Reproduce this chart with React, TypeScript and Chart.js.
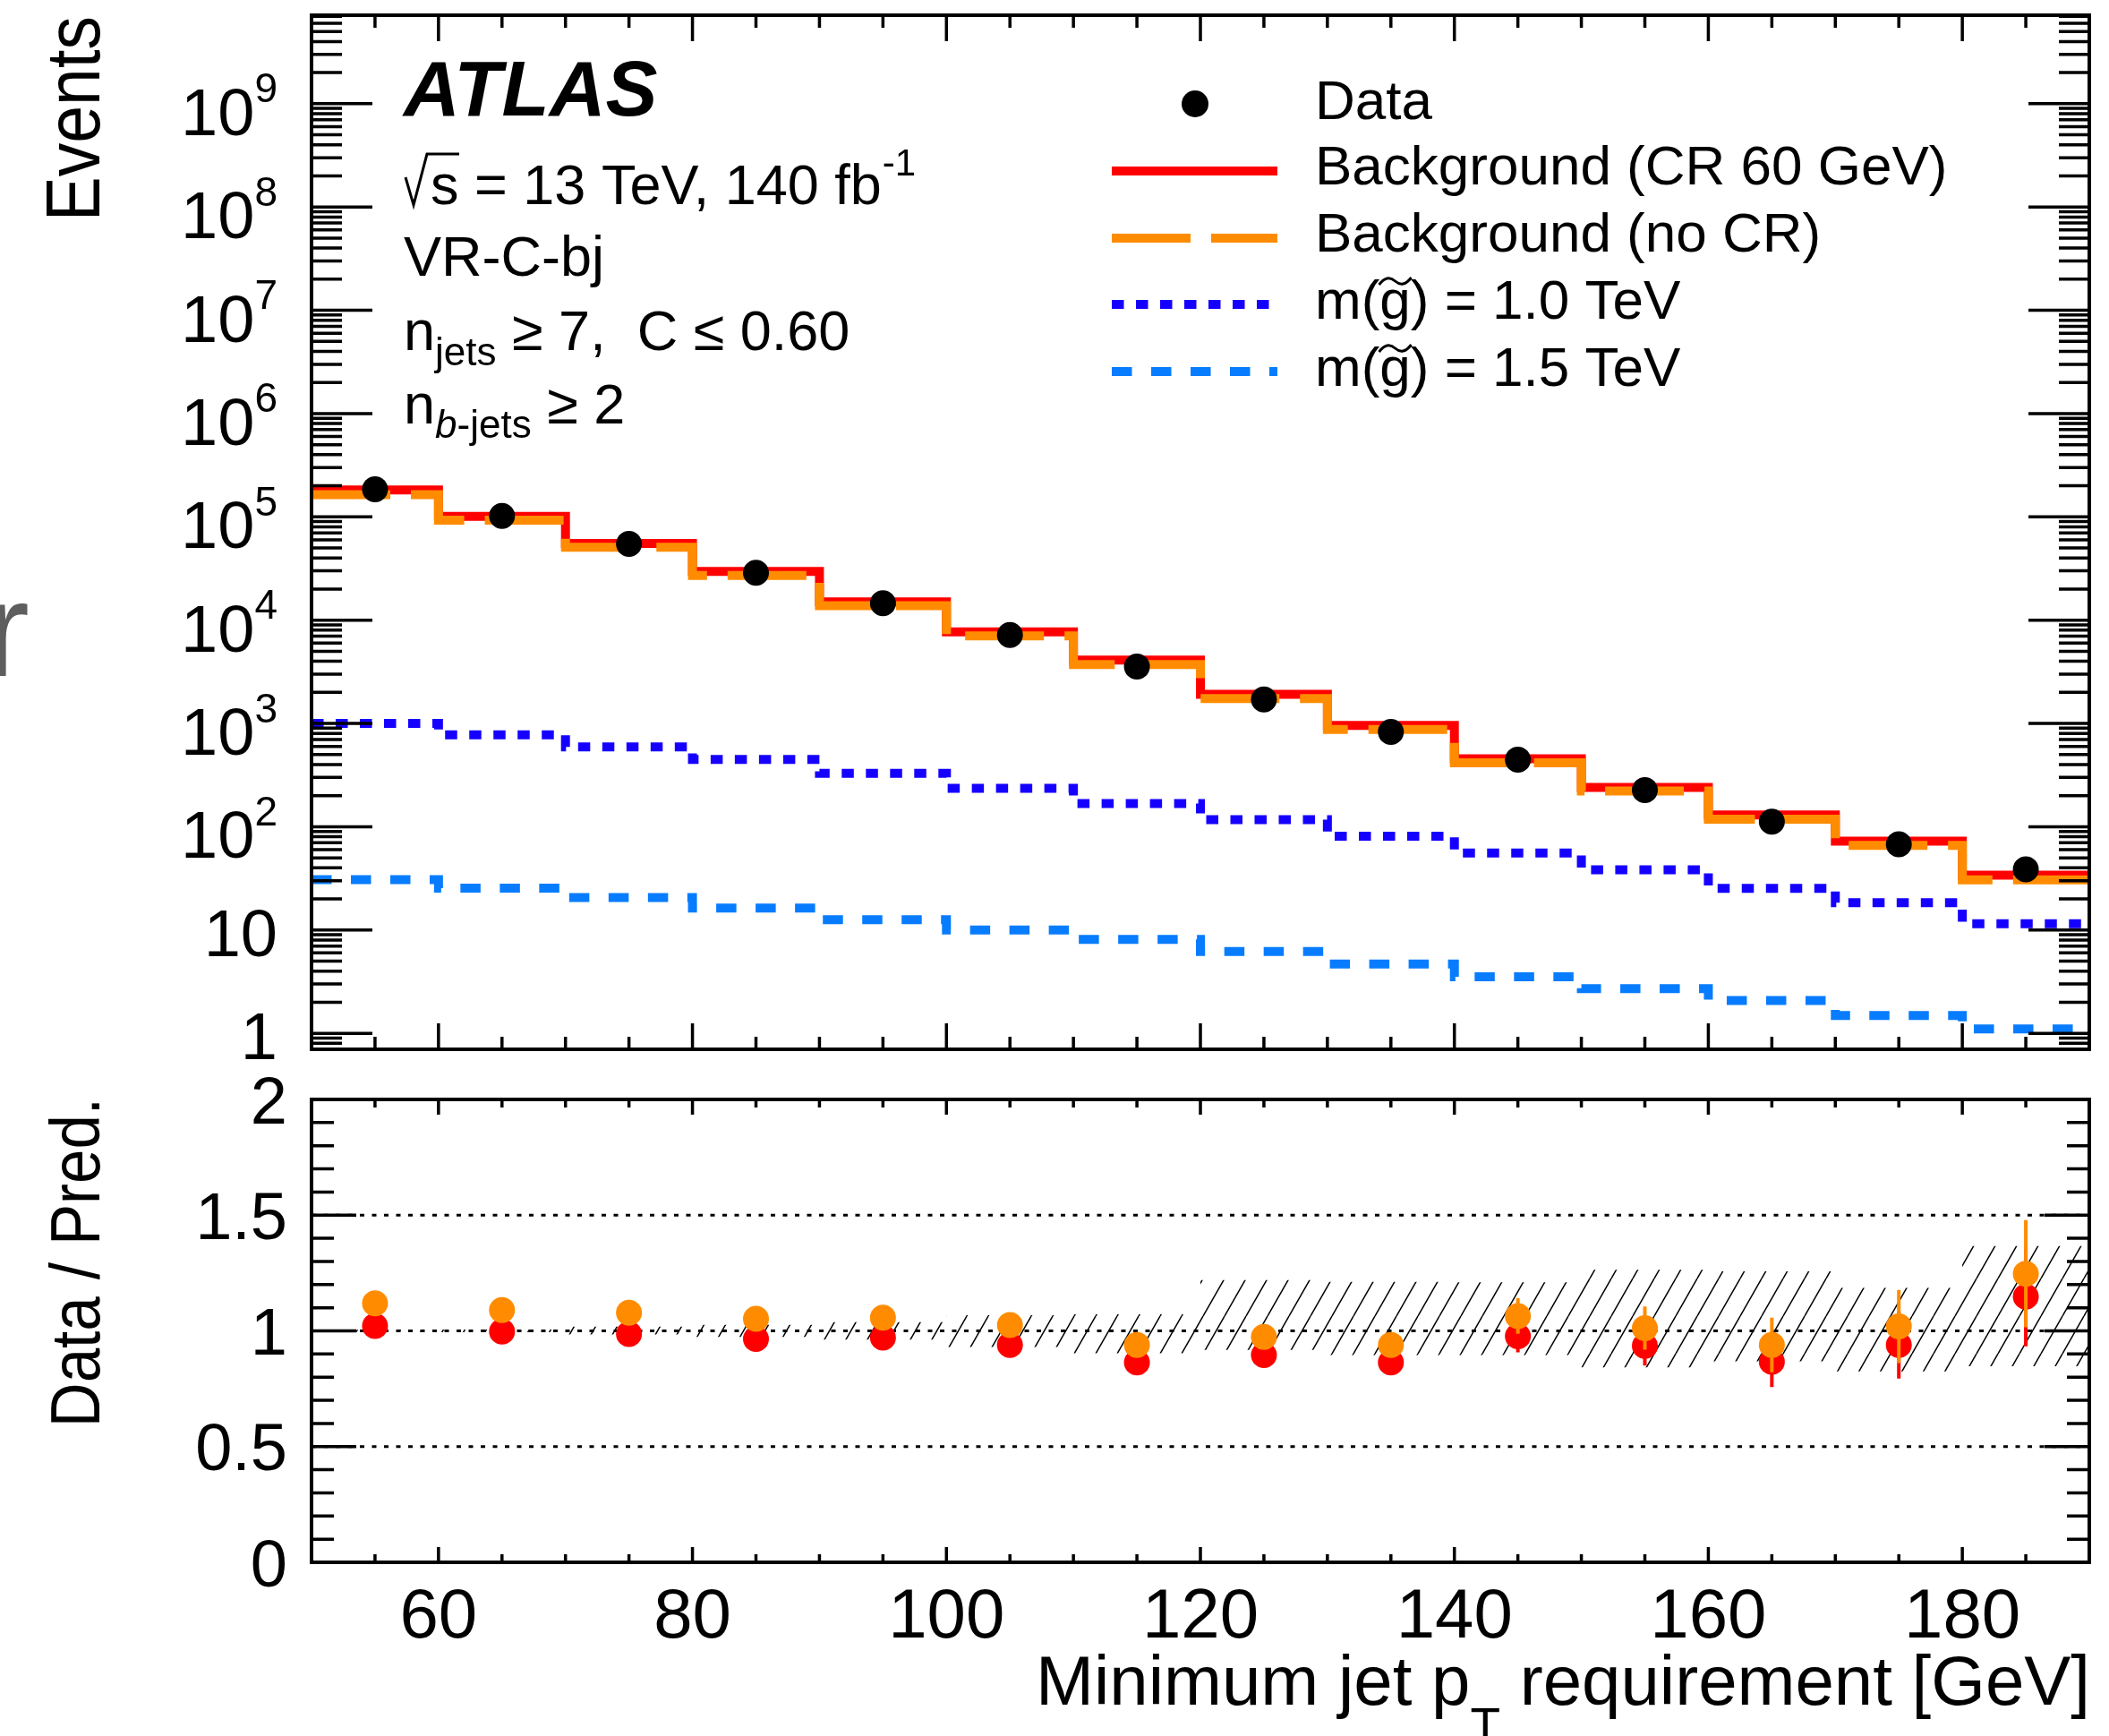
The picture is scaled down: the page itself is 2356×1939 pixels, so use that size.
import React, { useEffect, useRef } from 'react';
import { Chart, registerables } from 'chart.js';

Chart.register(...registerables);

const PAGE_W = 2356;
const PAGE_H = 1939;
const FONT = '"Liberation Sans", Arial, Helvetica, sans-serif';

const RED = '#ff0000';
const ORANGE = '#ff8c00';
const BLUE = '#1500ff';
const AZURE = '#087cff';

// Binning in minimum jet pT [GeV]
const binEdges = [50, 60, 70, 80, 90, 100, 110, 120, 130, 140, 150, 160, 170, 180, 190];
const binCentres = [55, 65, 75, 85, 95, 105, 115, 125, 135, 145, 155, 165, 175, 185];

// Event yields per bin
const dataEvents = [1.85e5, 1.02e5, 5.48e4, 2.88e4, 1.46e4, 7170, 3550, 1710, 828, 446, 226, 112, 67.6, 38.6];
const bkgCR60 = [1.82e5, 1.01e5, 5.52e4, 2.97e4, 1.5e4, 7710, 4100, 1910, 957, 456, 240, 130, 72.6, 33.9];
const bkgNoCR = [1.64e5, 9.3e4, 5.08e4, 2.71e4, 1.38e4, 7030, 3720, 1740, 873, 416, 222, 118, 65.8, 30.6];
const sigGluino1000 = [1000, 775, 593, 449, 329, 236, 168, 117, 80.9, 55.6, 38.2, 25.3, 18.4, 11.5];
const sigGluino1500 = [30.8, 25.4, 20.6, 16.3, 12.6, 10.0, 8.11, 6.2, 4.68, 3.52, 2.7, 2.08, 1.49, 1.1];

// Data / prediction
const ratioCR60 = [1.021, 0.997, 0.986, 0.965, 0.971, 0.939, 0.864, 0.896, 0.864, 0.977, 0.935, 0.867, 0.939, 1.148];
const ratioCR60Err = [0.002, 0.003, 0.004, 0.006, 0.008, 0.012, 0.016, 0.022, 0.031, 0.07, 0.085, 0.11, 0.145, 0.215];
const ratioNoCR = [1.119, 1.09, 1.078, 1.052, 1.057, 1.025, 0.939, 0.974, 0.939, 1.064, 1.012, 0.939, 1.019, 1.247];
const ratioNoCRErr = [0.002, 0.003, 0.004, 0.006, 0.009, 0.013, 0.017, 0.024, 0.034, 0.077, 0.093, 0.118, 0.158, 0.232];
const bandUp = [1.005, 1.006, 1.018, 1.026, 1.038, 1.068, 1.072, 1.22, 1.212, 1.21, 1.264, 1.257, 1.186, 1.367];
const bandDown = [0.995, 0.994, 0.985, 0.974, 0.962, 0.93, 0.903, 0.918, 0.896, 0.896, 0.842, 0.868, 0.825, 0.847];

// Axis ticks
const xMajorTicks = [60, 80, 100, 120, 140, 160, 180];
const xMajorLabels = ['60', '80', '100', '120', '140', '160', '180'];
const xMinorTicks = [55, 65, 70, 75, 85, 90, 95, 105, 110, 115, 125, 130, 135, 145, 150, 155, 165, 170, 175, 185];
const eventDecades = [0, 1, 2, 3, 4, 5, 6, 7, 8, 9];
const ratioMajorTicks = [0, 0.5, 1, 1.5, 2];
const ratioMajorLabels = ['0', '0.5', '1', '1.5', '2'];
const ratioMinorTicks = [0.1, 0.2, 0.3, 0.4, 0.6, 0.7, 0.8, 0.9, 1.1, 1.2, 1.3, 1.4, 1.6, 1.7, 1.8, 1.9];
const ratioRefLines = [0.5, 1, 1.5];

const X_MIN = 50;
const X_MAX = 190;
const EVENTS_MIN = 0.7244;
const EVENTS_MAX = 7.19e9;

// Pad frames in page pixels
const UPPER = { left: 348, right: 2334, top: 17, bottom: 1172 };
const LOWER = { left: 348, right: 2334, top: 1228, bottom: 1745 };

function stepPoints(values: number[]) {
  const pts: { x: number; y: number }[] = [];
  values.forEach((v, i) => {
    pts.push({ x: binEdges[i], y: v });
    pts.push({ x: binEdges[i + 1], y: v });
  });
  return pts;
}

function makeHatch(): CanvasPattern | string {
  const w = 24;
  const h = 42;
  const c = document.createElement('canvas');
  c.width = w;
  c.height = h;
  const g = c.getContext('2d');
  if (!g) return 'rgba(0,0,0,0.2)';
  g.strokeStyle = '#000';
  g.lineWidth = 1.5;
  g.beginPath();
  for (const k of [-1, 0, 1]) {
    g.moveTo(k * w, h);
    g.lineTo(k * w + w, 0);
  }
  g.stroke();
  return g.createPattern(c, 'repeat') || 'rgba(0,0,0,0.2)';
}

function seg(ctx: CanvasRenderingContext2D, x1: number, y1: number, x2: number, y2: number) {
  ctx.moveTo(x1, y1);
  ctx.lineTo(x2, y2);
}

type Run = { text: string; size: number; dy?: number; style?: string };

function drawRuns(ctx: CanvasRenderingContext2D, x: number, baseline: number, runs: Run[]) {
  let cx = x;
  const pos: number[] = [];
  for (const r of runs) {
    ctx.font = `${r.style ? r.style + ' ' : ''}${r.size}px ${FONT}`;
    pos.push(cx);
    ctx.fillText(r.text, cx, baseline + (r.dy || 0));
    cx += ctx.measureText(r.text).width;
  }
  pos.push(cx);
  return pos;
}

function drawGluinoLabel(ctx: CanvasRenderingContext2D, x: number, baseline: number, mass: string) {
  const pos = drawRuns(ctx, x, baseline, [
    { text: 'm(', size: 62 },
    { text: 'g', size: 62 },
    { text: `) = ${mass} TeV`, size: 62 },
  ]);
  const cx = (pos[1] + pos[2]) / 2;
  const cy = baseline - 42;
  ctx.save();
  ctx.lineWidth = 3;
  ctx.beginPath();
  ctx.moveTo(cx - 18, cy + 4);
  ctx.quadraticCurveTo(cx - 9, cy - 8, cx, cy);
  ctx.quadraticCurveTo(cx + 9, cy + 8, cx + 18, cy - 4);
  ctx.stroke();
  ctx.restore();
}

function drawRotatedTitle(ctx: CanvasRenderingContext2D, text: string, x: number, yEnd: number, size: number) {
  ctx.save();
  ctx.translate(x, yEnd);
  ctx.rotate(-Math.PI / 2);
  ctx.scale(1, 1.13);
  ctx.font = `${size}px ${FONT}`;
  ctx.textAlign = 'right';
  ctx.textBaseline = 'alphabetic';
  ctx.fillText(text, 0, 0);
  ctx.restore();
}

const upperDecor = {
  id: 'upperDecor',
  afterDraw(chart: any) {
    const { ctx, chartArea: a, scales } = chart;
    const xs = scales.x;
    const ys = scales.y;
    ctx.save();
    ctx.strokeStyle = '#000';
    ctx.fillStyle = '#000';

    // tick marks on all four sides
    ctx.lineWidth = 3.5;
    ctx.beginPath();
    for (const v of xMajorTicks) {
      const px = xs.getPixelForValue(v);
      seg(ctx, px, a.bottom, px, a.bottom - 29);
      seg(ctx, px, a.top, px, a.top + 29);
    }
    for (const v of xMinorTicks) {
      const px = xs.getPixelForValue(v);
      seg(ctx, px, a.bottom, px, a.bottom - 14);
      seg(ctx, px, a.top, px, a.top + 14);
    }
    for (const n of eventDecades) {
      const py = ys.getPixelForValue(Math.pow(10, n));
      seg(ctx, a.left, py, a.left + 68, py);
      seg(ctx, a.right, py, a.right - 68, py);
      for (let k = 2; k <= 9; k++) {
        const v = k * Math.pow(10, n);
        if (v >= EVENTS_MAX) continue;
        const pm = ys.getPixelForValue(v);
        seg(ctx, a.left, pm, a.left + 34, pm);
        seg(ctx, a.right, pm, a.right - 34, pm);
      }
    }
    for (const v of [0.8, 0.9]) {
      const pm = ys.getPixelForValue(v);
      seg(ctx, a.left, pm, a.left + 34, pm);
      seg(ctx, a.right, pm, a.right - 34, pm);
    }
    ctx.stroke();

    ctx.lineWidth = 4;
    ctx.strokeRect(a.left, a.top, a.right - a.left, a.bottom - a.top);

    // y tick labels
    ctx.textAlign = 'right';
    ctx.textBaseline = 'alphabetic';
    const lx = a.left - 38;
    for (const n of eventDecades) {
      const py = ys.getPixelForValue(Math.pow(10, n));
      if (n === 0 || n === 1) {
        ctx.font = `74px ${FONT}`;
        ctx.fillText(n === 0 ? '1' : '10', lx, py + 29);
      } else {
        ctx.font = `46px ${FONT}`;
        const sup = String(n);
        const sw = ctx.measureText(sup).width;
        ctx.fillText(sup, lx, py - 1.5);
        ctx.font = `74px ${FONT}`;
        ctx.fillText('10', lx - sw, py + 35);
      }
    }

    drawRotatedTitle(ctx, 'Events', 111, 18, 75);

    // stray glyph at the page edge
    ctx.save();
    ctx.fillStyle = '#5e5e5e';
    ctx.textAlign = 'left';
    ctx.font = `150px ${FONT}`;
    ctx.fillText('r', -17, 755);
    ctx.restore();

    // experiment label and selection text
    ctx.textAlign = 'left';
    ctx.font = `italic bold 87px ${FONT}`;
    ctx.fillText('ATLAS', 451, 129);

    ctx.lineWidth = 3;
    ctx.beginPath();
    ctx.moveTo(453, 198);
    ctx.lineTo(462, 229);
    ctx.lineTo(477, 172);
    ctx.lineTo(513, 172);
    ctx.stroke();
    const p1 = drawRuns(ctx, 481, 228, [
      { text: 's = 13 TeV, 140 fb', size: 63 },
    ]);
    drawRuns(ctx, p1[1] + 1, 196, [{ text: '-1', size: 42 }]);

    drawRuns(ctx, 451, 308, [{ text: 'VR-C-bj', size: 63 }]);
    drawRuns(ctx, 451, 391, [
      { text: 'n', size: 63 },
      { text: 'jets', size: 44, dy: 17 },
      { text: ' \u2265 7,  C \u2264 0.60', size: 63 },
    ]);
    drawRuns(ctx, 451, 473, [
      { text: 'n', size: 63 },
      { text: 'b', size: 44, dy: 16, style: 'italic' },
      { text: '-jets', size: 44, dy: 16 },
      { text: ' \u2265 2', size: 63 },
    ]);

    // legend
    const lx0 = 1242;
    const lx1 = 1427;
    const tx = 1469;
    ctx.beginPath();
    ctx.arc(1335, 116, 15, 0, Math.PI * 2);
    ctx.fill();
    drawRuns(ctx, tx, 133, [{ text: 'Data', size: 62 }]);

    const sample = (y: number, color: string, dash: number[]) => {
      ctx.save();
      ctx.strokeStyle = color;
      ctx.lineWidth = 10;
      ctx.lineCap = 'butt';
      ctx.setLineDash(dash);
      ctx.beginPath();
      ctx.moveTo(lx0, y);
      ctx.lineTo(lx1, y);
      ctx.stroke();
      ctx.restore();
    };
    sample(191, RED, []);
    drawRuns(ctx, tx, 206, [{ text: 'Background (CR 60 GeV)', size: 62 }]);
    sample(266, ORANGE, [88, 23]);
    drawRuns(ctx, tx, 281, [{ text: 'Background (no CR)', size: 62 }]);
    sample(340, BLUE, [13.5, 13.5]);
    drawGluinoLabel(ctx, tx, 356, '1.0');
    sample(415, AZURE, [22.5, 21.5]);
    drawGluinoLabel(ctx, tx, 431, '1.5');

    ctx.restore();
  },
};

const ratioErrorBars = {
  id: 'ratioErrorBars',
  beforeDatasetDraw(chart: any, args: any) {
    const ds = chart.data.datasets[args.index];
    if (!ds.errors) return;
    const { ctx, scales } = chart;
    ctx.save();
    ctx.strokeStyle = ds.pointBackgroundColor;
    ctx.lineWidth = 4;
    ctx.beginPath();
    ds.data.forEach((p: { x: number; y: number }, i: number) => {
      const px = scales.x.getPixelForValue(p.x);
      seg(ctx, px, scales.y.getPixelForValue(p.y - ds.errors[i]), px, scales.y.getPixelForValue(p.y + ds.errors[i]));
    });
    ctx.stroke();
    ctx.restore();
  },
};

const lowerDecor = {
  id: 'lowerDecor',
  afterDraw(chart: any) {
    const { ctx, chartArea: a, scales } = chart;
    const xs = scales.x;
    const ys = scales.y;
    ctx.save();
    ctx.strokeStyle = '#000';
    ctx.fillStyle = '#000';
    ctx.lineWidth = 3.5;
    ctx.beginPath();
    for (const v of xMajorTicks) {
      const px = xs.getPixelForValue(v);
      seg(ctx, px, a.bottom, px, a.bottom - 17);
      seg(ctx, px, a.top, px, a.top + 17);
    }
    for (const v of xMinorTicks) {
      const px = xs.getPixelForValue(v);
      seg(ctx, px, a.bottom, px, a.bottom - 9);
      seg(ctx, px, a.top, px, a.top + 9);
    }
    for (const v of ratioMajorTicks) {
      const py = ys.getPixelForValue(v);
      seg(ctx, a.left, py, a.left + 50, py);
      seg(ctx, a.right, py, a.right - 50, py);
    }
    for (const v of ratioMinorTicks) {
      const py = ys.getPixelForValue(v);
      seg(ctx, a.left, py, a.left + 25, py);
      seg(ctx, a.right, py, a.right - 25, py);
    }
    ctx.stroke();
    ctx.lineWidth = 4;
    ctx.strokeRect(a.left, a.top, a.right - a.left, a.bottom - a.top);

    // tick labels
    ctx.textBaseline = 'alphabetic';
    ctx.font = `74px ${FONT}`;
    ctx.textAlign = 'right';
    ratioMajorTicks.forEach((v, i) => {
      ctx.fillText(ratioMajorLabels[i], a.left - 27, ys.getPixelForValue(v) + 26.5);
    });
    ctx.font = `78px ${FONT}`;
    ctx.textAlign = 'center';
    xMajorTicks.forEach((v, i) => {
      ctx.fillText(xMajorLabels[i], xs.getPixelForValue(v), 1829);
    });

    // axis titles
    ctx.textAlign = 'left';
    const parts: Run[] = [
      { text: 'Minimum jet p', size: 78 },
      { text: 'T', size: 55, dy: 42 },
      { text: ' requirement [GeV]', size: 78 },
    ];
    let total = 0;
    for (const r of parts) {
      ctx.font = `${r.size}px ${FONT}`;
      total += ctx.measureText(r.text).width;
    }
    drawRuns(ctx, 2335 - total, 1904, parts);

    drawRotatedTitle(ctx, 'Data / Pred.', 111, 1226, 69);
    ctx.restore();
  },
};

export default function App() {
  const upperRef = useRef<HTMLCanvasElement | null>(null);
  const lowerRef = useRef<HTMLCanvasElement | null>(null);

  useEffect(() => {
    if (!upperRef.current || !lowerRef.current) return;

    const lineDefaults = { pointRadius: 0, fill: false, tension: 0, borderCapStyle: 'butt', borderJoinStyle: 'miter' };

    const upper = new Chart(upperRef.current, {
      type: 'line',
      data: {
        datasets: [
          {
            label: 'Data',
            data: binCentres.map((x, i) => ({ x, y: dataEvents[i] })),
            showLine: false,
            pointRadius: 14.5,
            pointBackgroundColor: '#000',
            pointBorderColor: '#000',
            pointBorderWidth: 0,
            order: 0,
          },
          {
            ...lineDefaults,
            label: 'Background (no CR)',
            data: stepPoints(bkgNoCR),
            borderColor: ORANGE,
            borderWidth: 10,
            borderDash: [88, 23],
            order: 1,
          },
          {
            ...lineDefaults,
            label: 'Background (CR 60 GeV)',
            data: stepPoints(bkgCR60),
            borderColor: RED,
            borderWidth: 10,
            order: 2,
          },
          {
            ...lineDefaults,
            label: 'm(g~) = 1.0 TeV',
            data: stepPoints(sigGluino1000),
            borderColor: BLUE,
            borderWidth: 10,
            borderDash: [13.5, 13.5],
            order: 3,
          },
          {
            ...lineDefaults,
            label: 'm(g~) = 1.5 TeV',
            data: stepPoints(sigGluino1500),
            borderColor: AZURE,
            borderWidth: 10,
            borderDash: [22.5, 21.5],
            order: 4,
          },
        ],
      },
      options: {
        responsive: false,
        animation: false,
        devicePixelRatio: 1,
        events: [],
        layout: {
          padding: { left: UPPER.left, right: PAGE_W - UPPER.right, top: UPPER.top, bottom: PAGE_H - UPPER.bottom },
        },
        plugins: { legend: { display: false }, tooltip: { enabled: false } },
        scales: {
          x: { type: 'linear', min: X_MIN, max: X_MAX, display: false },
          y: { type: 'logarithmic', min: EVENTS_MIN, max: EVENTS_MAX, display: false },
        },
      } as any,
      plugins: [upperDecor],
    } as any);

    const hatch = makeHatch();
    const lower = new Chart(lowerRef.current, {
      type: 'line',
      data: {
        datasets: [
          {
            ...lineDefaults,
            label: 'Uncertainty',
            data: stepPoints(bandUp),
            borderColor: 'rgba(0,0,0,0)',
            borderWidth: 1,
            backgroundColor: hatch,
            fill: '+1',
            order: 10,
          },
          {
            ...lineDefaults,
            label: 'Uncertainty (low)',
            data: stepPoints(bandDown),
            borderColor: 'rgba(0,0,0,0)',
            borderWidth: 1,
            order: 9,
          },
          ...ratioRefLines.map((v) => ({
            ...lineDefaults,
            label: `ref ${v}`,
            data: [
              { x: X_MIN, y: v },
              { x: X_MAX, y: v },
            ],
            borderColor: '#000',
            borderWidth: 3,
            borderDash: [5, 8.5],
            order: 5,
          })),
          {
            label: 'Data / Background (CR 60 GeV)',
            data: binCentres.map((x, i) => ({ x, y: ratioCR60[i] })),
            errors: ratioCR60Err,
            showLine: false,
            pointRadius: 14.5,
            pointBackgroundColor: RED,
            pointBorderColor: RED,
            pointBorderWidth: 0,
            order: 2,
          },
          {
            label: 'Data / Background (no CR)',
            data: binCentres.map((x, i) => ({ x, y: ratioNoCR[i] })),
            errors: ratioNoCRErr,
            showLine: false,
            pointRadius: 14.5,
            pointBackgroundColor: ORANGE,
            pointBorderColor: ORANGE,
            pointBorderWidth: 0,
            order: 1,
          },
        ],
      },
      options: {
        responsive: false,
        animation: false,
        devicePixelRatio: 1,
        events: [],
        layout: {
          padding: { left: LOWER.left, right: PAGE_W - LOWER.right, top: LOWER.top, bottom: PAGE_H - LOWER.bottom },
        },
        plugins: { legend: { display: false }, tooltip: { enabled: false } },
        scales: {
          x: { type: 'linear', min: X_MIN, max: X_MAX, display: false },
          y: { type: 'linear', min: 0, max: 2, display: false },
        },
      } as any,
      plugins: [ratioErrorBars, lowerDecor],
    } as any);

    return () => {
      upper.destroy();
      lower.destroy();
    };
  }, []);

  const canvasStyle: React.CSSProperties = {
    position: 'absolute',
    left: 0,
    top: 0,
    width: PAGE_W,
    height: PAGE_H,
  };

  return (
    <div style={{ position: 'absolute', left: 0, top: 0, width: PAGE_W, height: PAGE_H, background: '#fff', overflow: 'hidden' }}>
      <canvas ref={upperRef} width={PAGE_W} height={PAGE_H} style={canvasStyle} />
      <canvas ref={lowerRef} width={PAGE_W} height={PAGE_H} style={canvasStyle} />
    </div>
  );
}
